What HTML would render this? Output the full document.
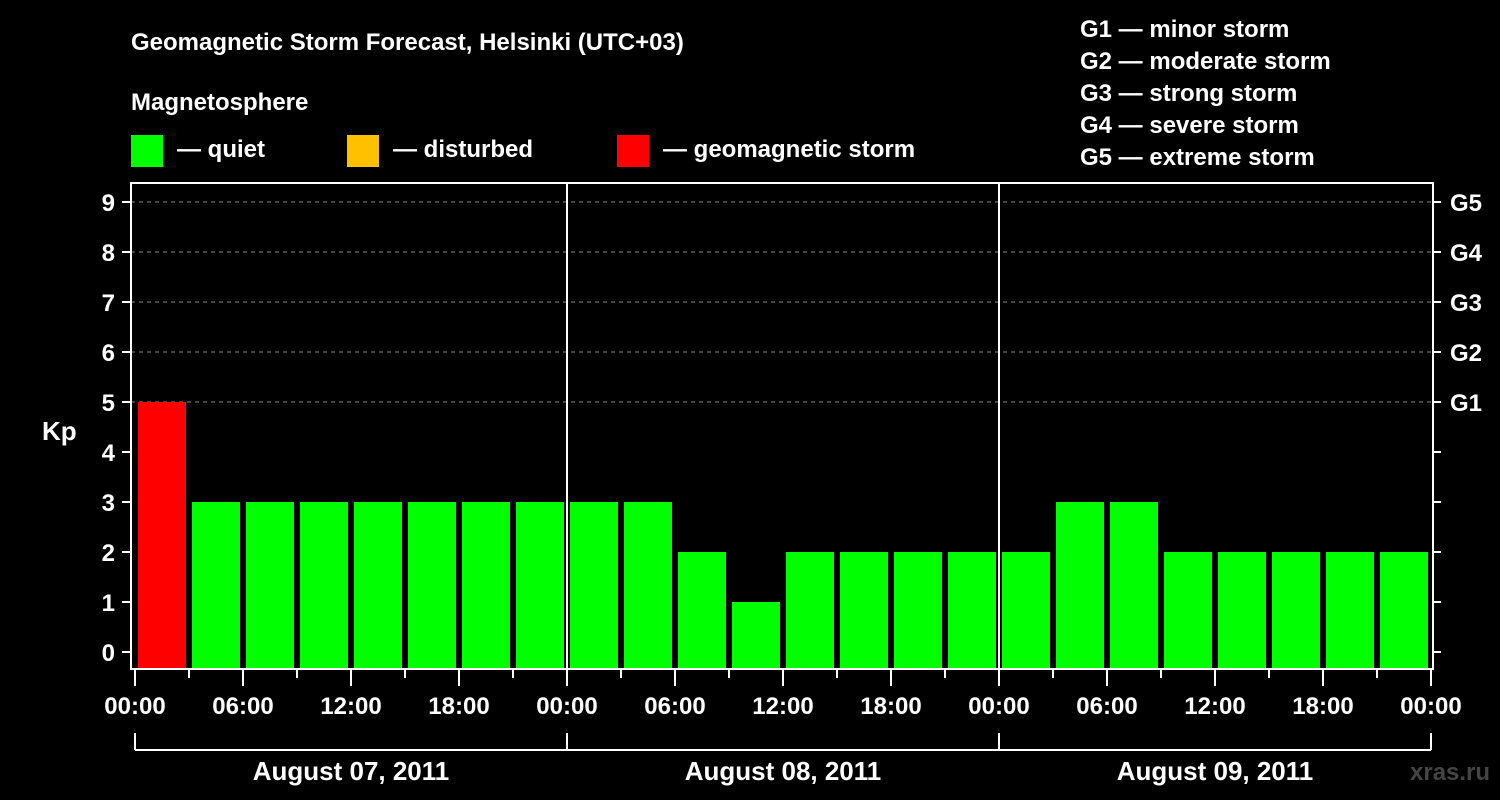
<!DOCTYPE html>
<html><head><meta charset="utf-8"><style>
body{margin:0;background:#000;}
svg{display:block;font-family:"Liberation Sans",sans-serif;font-weight:bold;}
</style></head><body>
<svg id="c" width="1500" height="800">
<rect width="1500" height="800" fill="#000"/>
<text x="131" y="50" fill="#fff" font-size="24">Geomagnetic Storm Forecast, Helsinki (UTC+03)</text>
<text x="131" y="110" fill="#fff" font-size="24">Magnetosphere</text>
<g><rect x="131" y="135" width="32" height="32" fill="#00ff00"/><text x="177" y="157" fill="#fff" font-size="24">— quiet</text></g>
<g><rect x="347" y="135" width="32" height="32" fill="#ffc000"/><text x="393" y="157" fill="#fff" font-size="24">— disturbed</text></g>
<g><rect x="617" y="135" width="32" height="32" fill="#ff0000"/><text x="663" y="157" fill="#fff" font-size="24">— geomagnetic storm</text></g>
<g fill="#fff" font-size="24">
<text x="1080" y="37">G1 — minor storm</text>
<text x="1080" y="69">G2 — moderate storm</text>
<text x="1080" y="101">G3 — strong storm</text>
<text x="1080" y="133">G4 — severe storm</text>
<text x="1080" y="165">G5 — extreme storm</text>
</g>
<text x="42" y="440" fill="#fff" font-size="26">Kp</text>
<text x="1410" y="780" fill="#444" font-size="24">xras.ru</text>
<g id="g"></g>
</svg>
<script>
const kpValues=[5,3,3,3,3,3,3,3, 3,3,2,1,2,2,2,2, 2,3,3,2,2,2,2,2];
const dayLabels=["August 07, 2011","August 08, 2011","August 09, 2011"];
const timeLabels=["00:00","06:00","12:00","18:00"];
const gLabels=["G1","G2","G3","G4","G5"];
const NS="http://www.w3.org/2000/svg";
const g=document.getElementById('g');
const X0=135,SLOT=54,Y0=652,UNIT=50,L=131,R=1433,T=183,B=669;
const xs=i=>X0+i*SLOT;
const ys=v=>Y0-v*UNIT;
function mk(t,a,p){const e=document.createElementNS(NS,t);for(const k in a)e.setAttribute(k,a[k]);(p||g).appendChild(e);return e;}
// gridlines
for(let v=5;v<=9;v++){
 const l=mk('line',{x1:L,x2:R,y1:ys(v),y2:ys(v),stroke:'#888','stroke-dasharray':'4,4','stroke-width':1});
 
 
}
// bars
kpValues.forEach((v,i)=>{
 const col=v>=5?'#ff0000':(v>=4?'#ffc000':'#00ff00');
 const r=mk('rect',{x:xs(i)+3,y:ys(v),width:SLOT-6,height:B-1-ys(v),fill:col});
 
 
});
// day separators
for(let d=1;d<3;d++){mk('line',{x1:xs(d*8),x2:xs(d*8),y1:T,y2:B,stroke:'#fff','stroke-width':2});}
// frame
const fr=mk('rect',{x:L,y:T,width:R-L,height:B-T,fill:'none',stroke:'#fff','stroke-width':2});


// y ticks
for(let v=0;v<=9;v++){
 mk('line',{x1:122,x2:L,y1:ys(v),y2:ys(v),stroke:'#fff','stroke-width':2});
 mk('line',{x1:R,x2:1441,y1:ys(v),y2:ys(v),stroke:'#fff','stroke-width':2});
 const t=mk('text',{x:115,y:ys(v)+9,fill:'#fff','font-size':24,'text-anchor':'end'});t.textContent=v;
 
 
}
gLabels.forEach((s,i)=>{
 const t=mk('text',{x:1450,y:ys(5+i)+9,fill:'#fff','font-size':24});t.textContent=s;
 
 
});
// x ticks
for(let i=0;i<=24;i++){
 const major=i%2===0;
 mk('line',{x1:xs(i),x2:xs(i),y1:B,y2:major?686:678,stroke:'#fff','stroke-width':2});
 if(major){
  const t=mk('text',{x:xs(i),y:714,fill:'#fff','font-size':24,'text-anchor':'middle'});
  t.textContent=timeLabels[(i/2)%4];
  
  
 }
}
// day brackets
mk('line',{x1:xs(0),x2:xs(24),y1:750,y2:750,stroke:'#fff','stroke-width':2});
for(let d=0;d<=3;d++)mk('line',{x1:xs(d*8),x2:xs(d*8),y1:733,y2:750,stroke:'#fff','stroke-width':2});
dayLabels.forEach((s,d)=>{
 const t=mk('text',{x:(xs(d*8)+xs(d*8+8))/2,y:780,fill:'#fff','font-size':26,'text-anchor':'middle'});
 t.textContent=s;
 
 
});
</script>
</body></html>
